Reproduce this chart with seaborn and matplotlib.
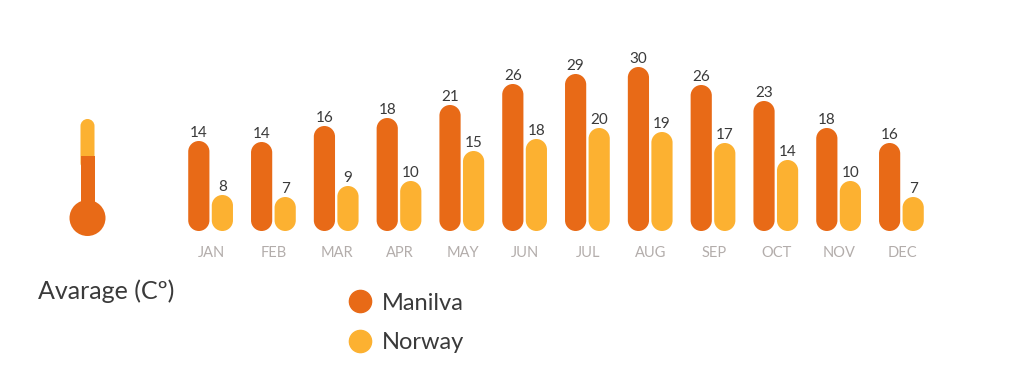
import matplotlib
matplotlib.use("Agg")
import matplotlib.pyplot as plt
import seaborn as sns
import pandas as pd
from matplotlib.lines import Line2D
from matplotlib.patches import Circle, PathPatch, Rectangle
from matplotlib.path import Path
from matplotlib.transforms import ScaledTranslation

months = ['JAN', 'FEB', 'MAR', 'APR', 'MAY', 'JUN', 'JUL', 'AUG', 'SEP', 'OCT', 'NOV', 'DEC']
# printed temperatures
manilva_labels = [14, 14, 16, 18, 21, 26, 29, 30, 26, 23, 18, 16]
norway_labels = [8, 7, 9, 10, 15, 18, 20, 19, 17, 14, 10, 7]
# the bars in the picture are not proportional to the printed numbers, so heights are read off separately
manilva_heights = [90, 89, 105, 113, 126, 147, 157, 164, 146, 130, 103, 88]
norway_heights = [36, 34, 45, 50, 80, 92, 103, 99, 88, 71, 50, 34]

ORANGE = '#E86A17'
YELLOW = '#FCB131'
DARK = '#3A3A3A'
GREY = '#B3ADAB'


def pill(x0, x1, y0, y1, rx, ry, color):
    # box with fully round ends, rx and ry are the corner radii in data units
    k = 0.5523
    verts = [(x0, y0 + ry), (x0, y1 - ry),
             (x0, y1 - ry + k * ry), (x0 + rx - k * rx, y1), (x0 + rx, y1),
             (x1 - rx, y1),
             (x1 - rx + k * rx, y1), (x1, y1 - ry + k * ry), (x1, y1 - ry),
             (x1, y0 + ry),
             (x1, y0 + ry - k * ry), (x1 - rx + k * rx, y0), (x1 - rx, y0),
             (x0 + rx, y0),
             (x0 + rx - k * rx, y0), (x0, y0 + ry - k * ry), (x0, y0 + ry),
             (x0, y0 + ry)]
    L, C = Path.LINETO, Path.CURVE4
    codes = [Path.MOVETO, L, C, C, C, L, C, C, C, L, C, C, C, L, C, C, C, Path.CLOSEPOLY]
    return PathPatch(Path(verts, codes), facecolor=color, edgecolor='none')


sns.set_theme(style="white")
plt.rcParams['font.family'] = ['Lato', 'DejaVu Sans']

df = pd.DataFrame({
    'month': months * 2,
    'city': ['Manilva'] * 12 + ['Norway'] * 12,
    'height': manilva_heights + norway_heights,
})

W, H = 1024, 382
UNIT = 62.8  # pixels per month
left = 210.6 - UNIT / 2
base = 231
top = 40

fig = plt.figure(figsize=(W / 100, H / 100), dpi=100, facecolor='white')
ax = fig.add_axes([left / W, 1 - base / H, 12 * UNIT / W, (base - top) / H])

sns.barplot(data=df, x='month', y='height', hue='city', palette=[ORANGE, YELLOW],
            width=0.75, gap=0.1, legend=False, ax=ax)
ax.set_xlim(-0.5, 11.5)
ax.set_ylim(0, base - top)

# rounded bars, built from the seaborn ones
for container, labels, color in zip(ax.containers, [manilva_labels, norway_labels], [ORANGE, YELLOW]):
    ax.bar_label(container, labels=labels, padding=0.5, fontsize=11, color=DARK)
    for bar in container:
        x, y = bar.get_xy()
        w, h = bar.get_width(), bar.get_height()
        ax.add_patch(pill(x, x + w, y, y + h, w / 2, w / 2 * UNIT, color))
        bar.set_visible(False)

ax.set_xlabel('')
ax.set_ylabel('')
ax.set_yticks([])
ax.tick_params(axis='x', length=0, pad=11, labelsize=10.5, labelcolor=GREY)
for label in ax.get_xticklabels():
    label.set_transform(label.get_transform() + ScaledTranslation(0.8 / 100, 0, fig.dpi_scale_trans))
sns.despine(ax=ax, left=True, bottom=True)
ax.patch.set_alpha(0)

# thermometer icon and text, in pixel coordinates
overlay = fig.add_axes([0, 0, 1, 1])
overlay.set_xlim(0, W)
overlay.set_ylim(H, 0)
overlay.axis('off')
overlay.patch.set_alpha(0)

overlay.add_patch(pill(80.5, 94.5, 119, 170, 7, 7, YELLOW))
overlay.add_patch(Rectangle((80.5, 156), 14, 60, facecolor=ORANGE, edgecolor='none'))
overlay.add_patch(Circle((87.5, 218), 18, facecolor=ORANGE, edgecolor='none'))

overlay.text(38, 291, 'Avarage (Cº)', fontsize=18, color=DARK, va='center', ha='left')

handles = [Line2D([], [], linestyle='none', marker='o', markersize=16, color=ORANGE),
           Line2D([], [], linestyle='none', marker='o', markersize=16, color=YELLOW)]
overlay.legend(handles, ['Manilva', 'Norway'], loc='upper left',
               bbox_to_anchor=(339 / W, 1 - 288 / H), frameon=False, fontsize=17,
               labelcolor=DARK, labelspacing=0.78, handletextpad=0.22, handlelength=1.4,
               borderaxespad=0, borderpad=0.2)

fig.savefig('out.png', dpi=100, facecolor='white')
plt.close(fig)
